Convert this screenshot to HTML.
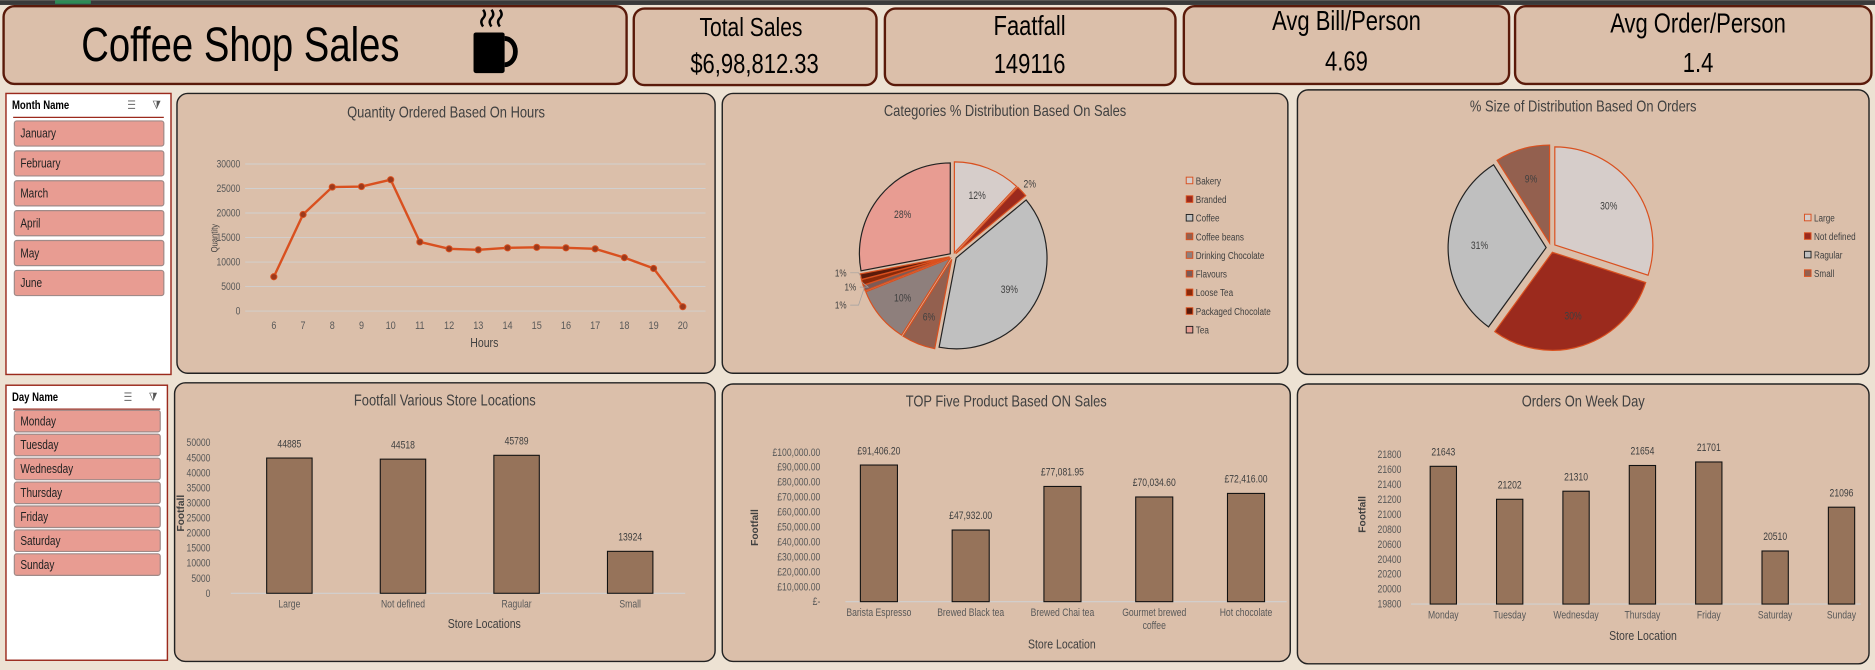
<!DOCTYPE html>
<html><head><meta charset="utf-8">
<style>
html,body{margin:0;padding:0;width:1875px;height:670px;overflow:hidden;background:#ede2d3;}
svg{display:block;font-family:"Liberation Sans",sans-serif;}
</style></head>
<body>
<svg id="dash" width="1875" height="670" viewBox="0 0 1568 560" xmlns="http://www.w3.org/2000/svg">
<rect x="0" y="0" width="1568" height="560" fill="#ede2d3"/>
<rect x="0" y="0" width="1568" height="4" fill="#3a3a3a"/>
<rect x="46" y="0" width="30" height="3" fill="#2e8b57"/>
<g>
<rect x="3" y="5" width="521" height="65" rx="9" fill="#dbbfaa" stroke="#5a1a0a" stroke-width="2"/>
<text x="201" y="51" font-size="40" text-anchor="middle" fill="#000">Coffee Shop Sales</text>
<g>
<rect x="396" y="27" width="26" height="34" rx="2" fill="#000"/>
<path d="M422 32 a9 11 0 0 1 0 22" fill="none" stroke="#000" stroke-width="4"/>
<path d="M404 22 q-3 -4 0 -7 q3 -3 0 -7 M411 22 q-3 -4 0 -7 q3 -3 0 -7 M418 22 q-3 -4 0 -7 q3 -3 0 -7" fill="none" stroke="#000" stroke-width="2"/>
</g></g>
<g>
<rect x="530" y="7" width="203" height="64" rx="9" fill="#dbbfaa" stroke="#5a1a0a" stroke-width="2"/>
<text x="628" y="30" font-size="22" text-anchor="middle">Total Sales</text>
<text x="631" y="61" font-size="23" text-anchor="middle">$6,98,812.33</text></g>
<g>
<rect x="740" y="7" width="243" height="64" rx="9" fill="#dbbfaa" stroke="#5a1a0a" stroke-width="2"/>
<text x="861" y="29" font-size="23" text-anchor="middle">Faatfall</text>
<text x="861" y="61" font-size="23" text-anchor="middle">149116</text></g>
<g>
<rect x="990" y="5" width="272" height="65" rx="9" fill="#dbbfaa" stroke="#5a1a0a" stroke-width="2"/>
<text x="1126" y="25" font-size="23" text-anchor="middle">Avg Bill/Person</text>
<text x="1126" y="59" font-size="23" text-anchor="middle">4.69</text></g>
<g>
<rect x="1267" y="5" width="298" height="65" rx="9" fill="#dbbfaa" stroke="#5a1a0a" stroke-width="2"/>
<text x="1420" y="27" font-size="23" text-anchor="middle">Avg Order/Person</text>
<text x="1420" y="60" font-size="23" text-anchor="middle">1.4</text></g>
<g id="panels"></g>
<g id="content"></g>
</svg>
<script>
// ---- data ----
const months=["January","February","March","April","May","June"];
const days=["Monday","Tuesday","Wednesday","Thursday","Friday","Saturday","Sunday"];
const hours=[6,7,8,9,10,11,12,13,14,15,16,17,18,19,20];
const qtyByHour=[7000,19700,25300,25400,26800,14100,12700,12500,12900,13000,12900,12700,10900,8700,900];
const qtyTicks=[0,5000,10000,15000,20000,25000,30000];
const catNames=["Bakery","Branded","Coffee","Coffee beans","Drinking Chocolate","Flavours","Loose Tea","Packaged Chocolate","Tea"];
const catPct=[12,2,39,6,10,1,1,1,28];
const sizeNames=["Large","Not defined","Ragular","Small"];
const sizePct=[30,30,31,9];
const locNames=["Large","Not defined","Ragular","Small"];
const locFootfall=[44885,44518,45789,13924];
const locTicks=[0,5000,10000,15000,20000,25000,30000,35000,40000,45000,50000];
const prodNames=["Barista Espresso","Brewed Black tea","Brewed Chai tea","Gourmet brewed coffee","Hot chocolate"];
const prodSales=[91406.20,47932.00,77081.95,70034.60,72416.00];
const prodTicks=[0,10000,20000,30000,40000,50000,60000,70000,80000,90000,100000];
const dayOrders=[21643,21202,21310,21654,21701,20510,21096];
const dayTicks=[19800,20000,20200,20400,20600,20800,21000,21200,21400,21600,21800];

const NS="http://www.w3.org/2000/svg";
const C=document.getElementById('content'), P=document.getElementById('panels');
function el(tag,attrs,parent,txt){const e=document.createElementNS(NS,tag);for(const k in attrs)e.setAttribute(k,attrs[k]);if(txt!==undefined)e.textContent=txt;(parent||C).appendChild(e);return e;}
function tx(x,y,s,size,anchor,fill,parent,extra){return el('text',Object.assign({x:x,y:y,'font-size':size,'text-anchor':anchor||'middle',fill:fill||'#404040'},extra||{}),parent,s);}

function panel(name,x,y,w,h,title,ty){const g=el('g',{},P);
el('rect',{x:x,y:y,width:w,height:h,rx:9,fill:'#dbbfaa',stroke:'#222','stroke-width':1.2},g);
const t=tx(x+w/2,ty,title,13.5,'middle','#404040',g);}
panel('hours-line-chart',148,78,450,234,'Quantity Ordered Based On Hours',98);
panel('category-pie-chart',604,78,473,234,'Categories % Distribution Based On Sales',97);
panel('size-pie-chart',1085,75,478,238,'% Size of Distribution Based On Orders',93);
panel('location-bar-chart',146,320,452,233,'Footfall Various Store Locations',339);
panel('product-bar-chart',604,321,475,232,'TOP Five Product Based ON Sales',340);
panel('weekday-bar-chart',1085,321,478,234,'Orders On Week Day',340);

function slicer(name,x,y,w,h,title,items,iy,step,ih){const g=el('g',{});
el('rect',{x:x,y:y,width:w,height:h,fill:'#fff',stroke:'#9b2a1d','stroke-width':1.2},g);
const t=tx(x+5,y+13,title,10,'start','#000',g,{'font-weight':'bold'});
el('line',{x1:x+6,y1:y+20,x2:x+w-6,y2:y+20,stroke:'#9b2a1d','stroke-width':1},g);
const ms=tx(x+w-33,y+13,'☰',10,'middle','#777',g);
const cf=tx(x+w-12,y+13,'⧩',10,'middle','#555',g);
items.forEach((s,i)=>{const b=el('g',{},g);
el('rect',{x:x+7,y:iy+i*step,width:w-13,height:ih,rx:2,fill:'#e89c92',stroke:'#a08a88','stroke-width':1},b);
tx(x+12,iy+i*step+ih/2+3.5,s,10.5,'start','#222',b);});}
slicer('month-slicer',5,78,138,235,'Month Name',months,101,25,21);
slicer('day-slicer',5,322,135,230,'Day Name',days,343,20,18);

function lin(d0,d1,r0,r1){return v=>r0+(v-d0)*(r1-r0)/(d1-d0);}

(function(){const x0=229,x1=571,y=lin(0,30000,260,137);const xs=i=>x0+i*(x1-x0)/(hours.length-1);
qtyTicks.forEach(t=>{el('line',{x1:205,x2:590,y1:y(t),y2:y(t),stroke:'#d0d0d0','stroke-width':0.8});tx(201,y(t)+3,String(t),9,'end','#595959');});
hours.forEach((h,i)=>tx(xs(i),275,String(h),9.5,'middle','#595959'));
tx(405,290,'Hours',11,'middle','#404040');
tx(182,199,'Quantity',8,'middle','#404040',null,{transform:'rotate(-90 182 199)'});
const pts=qtyByHour.map((v,i)=>xs(i)+','+y(v)).join(' ');
const pl=el('polyline',{points:pts,fill:'none',stroke:'#d9501f','stroke-width':2});
qtyByHour.forEach((v,i)=>{const c=el('circle',{cx:xs(i),cy:y(v),r:2.6,fill:'#9b3a1d',stroke:'#d9501f','stroke-width':0.8});});})();

function pie(cx,cy,r,vals,names,fills,strokes,explode,labelR,nameP){let a=0,small=0;const tot=vals.reduce((s,v)=>s+v,0);
vals.forEach((v,i)=>{const a0=a,a1=a+v/tot*2*Math.PI;a=a1;const m=(a0+a1)/2;const ox=Math.sin(m)*explode,oy=-Math.cos(m)*explode;
const p=(ang,rr)=>[cx+ox+Math.sin(ang)*rr,cy+oy-Math.cos(ang)*rr];const s=p(a0,r),e=p(a1,r);
const d='M'+(cx+ox)+' '+(cy+oy)+' L'+s[0]+' '+s[1]+' A'+r+' '+r+' 0 '+((a1-a0)>Math.PI?1:0)+' 1 '+e[0]+' '+e[1]+' Z';
const sl=el('path',{d:d,fill:fills[i],stroke:strokes[i],'stroke-width':1});
const pct=v+'%';
if(v>=2){const lr=v<=3?r+9:r*labelR;const l=p(m,lr);tx(l[0],l[1]+3,pct,9,'middle','#404040');}
else{const l=p(m,r);const k=small++;const ly=[255,240,228][k%3];const lx=[708,716,708][k%3];
el('polyline',{points:(lx+3)+','+ly+' '+(lx+10)+','+ly+' '+l[0]+','+l[1],fill:'none',stroke:'#a0a0a0','stroke-width':0.6});tx(lx,ly+3,pct,8.5,'end','#404040');}});}
function legend(x,y0,step,names,fills,strokes,nameP){names.forEach((n,i)=>{const g=el('g',{});
el('rect',{x:x,y:y0+i*step-6,width:5.5,height:5.5,fill:fills[i],stroke:strokes[i],'stroke-width':0.8},g);tx(x+8,y0+i*step,n,8.5,'start','#404040',g);});}

const catFill=['#d6cdca','#9b2a1d','#c0c0c0','#93604f','#8e7f7c','#7d5a55','#8b2a0a','#5a1a0a','#e89c92'];
const catStroke=['#d9501f','#d9501f','#222','#d9501f','#d9501f','#d9501f','#d9501f','#d9501f','#222'];
pie(797,214,76,catPct,catNames,catFill,catStroke,3,0.68,'category');
legend(992,154,15.6,catNames,catFill,catStroke,'category');

const sizeFill=['#d6cdca','#9b2a1d','#bfbfbf','#93604f'];
const sizeStroke=['#d9501f','#d9501f','#222','#d9501f'];
pie(1297,207,82,sizePct,sizeNames,sizeFill,sizeStroke,4,0.68,'size');
legend(1509,185,15.5,sizeNames,sizeFill,sizeStroke,'size');

function bars(opt){const y=lin(opt.d0,opt.d1,opt.yb,opt.yt);
opt.ticks.forEach(t=>tx(opt.tx,y(t)+3,opt.fmt(t),9,'end','#595959'));
el('line',{x1:opt.ax0,x2:opt.ax1,y1:opt.yb,y2:opt.yb,stroke:'#d0d0d0','stroke-width':1});
const step=(opt.c1-opt.c0)/(opt.vals.length-1);
opt.vals.forEach((v,i)=>{const cx=opt.c0+i*step;const b=el('rect',{x:cx-opt.bw/2,y:y(v),width:opt.bw,height:opt.yb-y(v),fill:'#96735a',stroke:'#111','stroke-width':0.9});

tx(cx,y(v)-9,opt.vfmt(v),9,'middle','#404040');
const lines=opt.wrap&&opt.cats[i].length>18?[opt.cats[i].split(' ').slice(0,2).join(' '),opt.cats[i].split(' ').slice(2).join(' ')]:[opt.cats[i]];
lines.forEach((ln,j)=>tx(cx,opt.yb+12+j*11,ln,9,'middle','#595959'));});
tx(opt.ylx,opt.yly,'Footfall',8.5,'middle','#404040',null,{transform:'rotate(-90 '+opt.ylx+' '+opt.yly+')','font-weight':'bold','data-nocond':'1'});
tx(opt.xlx,opt.xly,opt.xl,11,'middle','#404040');}
const gbp=v=>v===0?'£-':'£'+v.toLocaleString('en-GB',{minimumFractionDigits:2,maximumFractionDigits:2});
bars({nameP:'location',cats:locNames,vals:locFootfall,ticks:locTicks,d0:0,d1:50000,yb:496,yt:370,tx:176,fmt:String,vfmt:String,ax0:193,ax1:573,c0:242,c1:527,bw:38,ylx:154,yly:429,xlx:405,xly:525,xl:'Store Locations'});
bars({nameP:'product',cats:prodNames,vals:prodSales,ticks:prodTicks,d0:0,d1:100000,yb:503,yt:378,tx:686,fmt:gbp,vfmt:gbp,ax0:707,ax1:1076,c0:735,c1:1042,bw:31,ylx:634,yly:441,xlx:888,xly:542,xl:'Store Location',wrap:true});
bars({nameP:'weekday',cats:days,vals:dayOrders,ticks:dayTicks,d0:19800,d1:21800,yb:505,yt:380,tx:1172,fmt:String,vfmt:String,ax0:1180,ax1:1556,c0:1207,c1:1540,bw:22,ylx:1142,yly:430,xlx:1374,xly:535,xl:'Store Location'});

// condense all text to mimic a narrow font
document.querySelectorAll('#dash text').forEach(t=>{if(t.getAttribute('data-nocond'))return;const w=t.getComputedTextLength();if(w>0){t.setAttribute('textLength',(w*0.8).toFixed(1));t.setAttribute('lengthAdjust','spacingAndGlyphs');}});
</script>
</body></html>
